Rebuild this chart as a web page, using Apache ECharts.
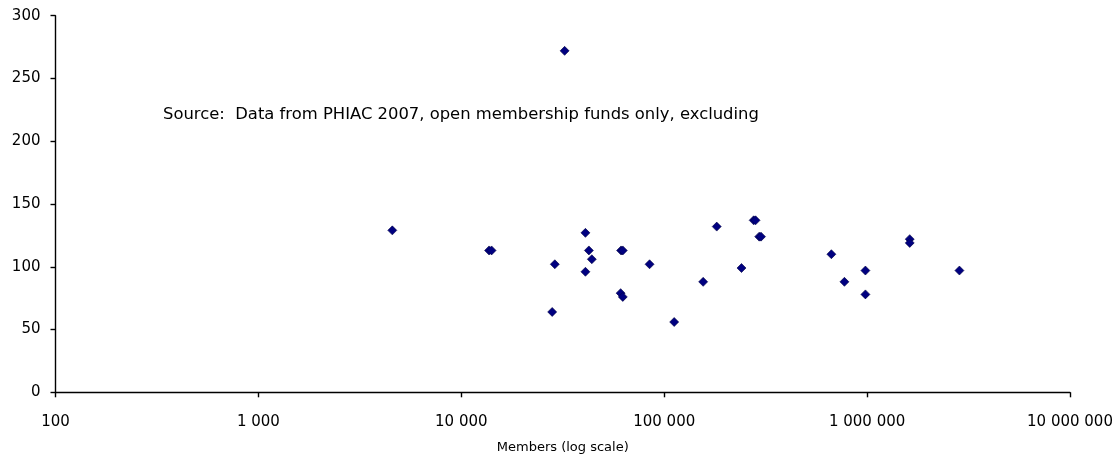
<!DOCTYPE html>
<html>
<head>
<meta charset="utf-8">
<script src="https://cdn.jsdelivr.net/npm/echarts@6/dist/echarts.min.js"></script>
<style>
  html, body { margin: 0; padding: 0; background: #ffffff; }
  #chart { width: 1116px; height: 461px; }
</style>
</head>
<body>
<div id="chart"></div>
<script>
// Fund membership (x, log scale) and value (y)
const members = [
  4570, 13700, 14100, 28900, 28050, 32300,
  40900, 42550, 43980, 40900, 61300, 62500,
  61000, 62500, 84700, 112000, 155600, 181500,
  240400, 276000, 282000, 294000, 300000, 666600,
  773000, 981000, 981000, 1622000, 1622000, 2851000
];
const values = [
  129, 113, 113, 102, 64, 272,
  127, 113, 106, 96, 113, 113,
  79, 76, 102, 56, 88, 132,
  99, 137, 137, 124, 124, 110,
  88, 97, 78, 122, 119, 97
];
const xTicks = [100, 1000, 10000, 100000, 1000000, 10000000];
const yTicks = [0, 50, 100, 150, 200, 250, 300];
const sourceNote = 'Source:  Data from PHIAC 2007, open membership funds only, excluding';
const xTitle = 'Members (log scale)';

const points = members.map((m, i) => [m, values[i]]);
const fmt = v => String(Math.round(v)).replace(/\B(?=(\d{3})+(?!\d))/g, ' ');

const chart = echarts.init(document.getElementById('chart'), null, { renderer: 'canvas' });
const axisFont = { fontFamily: 'DejaVu Sans, Liberation Sans, sans-serif', fontSize: 15, color: '#000' };
chart.setOption({
  animation: false,
  backgroundColor: '#ffffff',
  grid: { left: 55.5, right: 46, top: 15.7, bottom: 68.7, containLabel: false },
  xAxis: {
    type: 'log',
    logBase: 10,
    min: xTicks[0],
    max: xTicks[xTicks.length - 1],
    name: xTitle,
    nameLocation: 'middle',
    nameGap: 49,
    nameTextStyle: { fontFamily: 'DejaVu Sans, Liberation Sans, sans-serif', fontSize: 13, color: '#000' },
    axisLine: { show: true, lineStyle: { color: '#000', width: 1.4 } },
    axisTick: { show: true, inside: false, length: 5, lineStyle: { color: '#000', width: 1.4 } },
    minorTick: { show: false },
    splitLine: { show: false },
    axisLabel: Object.assign({ margin: 22, formatter: v => fmt(v) }, axisFont)
  },
  yAxis: {
    type: 'value',
    min: yTicks[0],
    max: yTicks[yTicks.length - 1],
    interval: 50,
    axisLine: { show: true, lineStyle: { color: '#000', width: 1.4 } },
    axisTick: { show: true, inside: false, length: 5, lineStyle: { color: '#000', width: 1.4 } },
    splitLine: { show: false },
    axisLabel: Object.assign({ margin: 15, formatter: v => fmt(v) }, axisFont)
  },
  series: [{
    type: 'scatter',
    data: points,
    symbol: 'diamond',
    symbolSize: 9,
    itemStyle: { color: '#000080', borderColor: '#000040', borderWidth: 0.6, opacity: 1 }
  }],
  graphic: [{
    type: 'text',
    left: 163,
    top: 107,
    style: {
      text: sourceNote,
      fontFamily: 'DejaVu Sans, Liberation Sans, sans-serif',
      fontSize: 16.4,
      fill: '#000'
    }
  }]
});
</script>
</body>
</html>
